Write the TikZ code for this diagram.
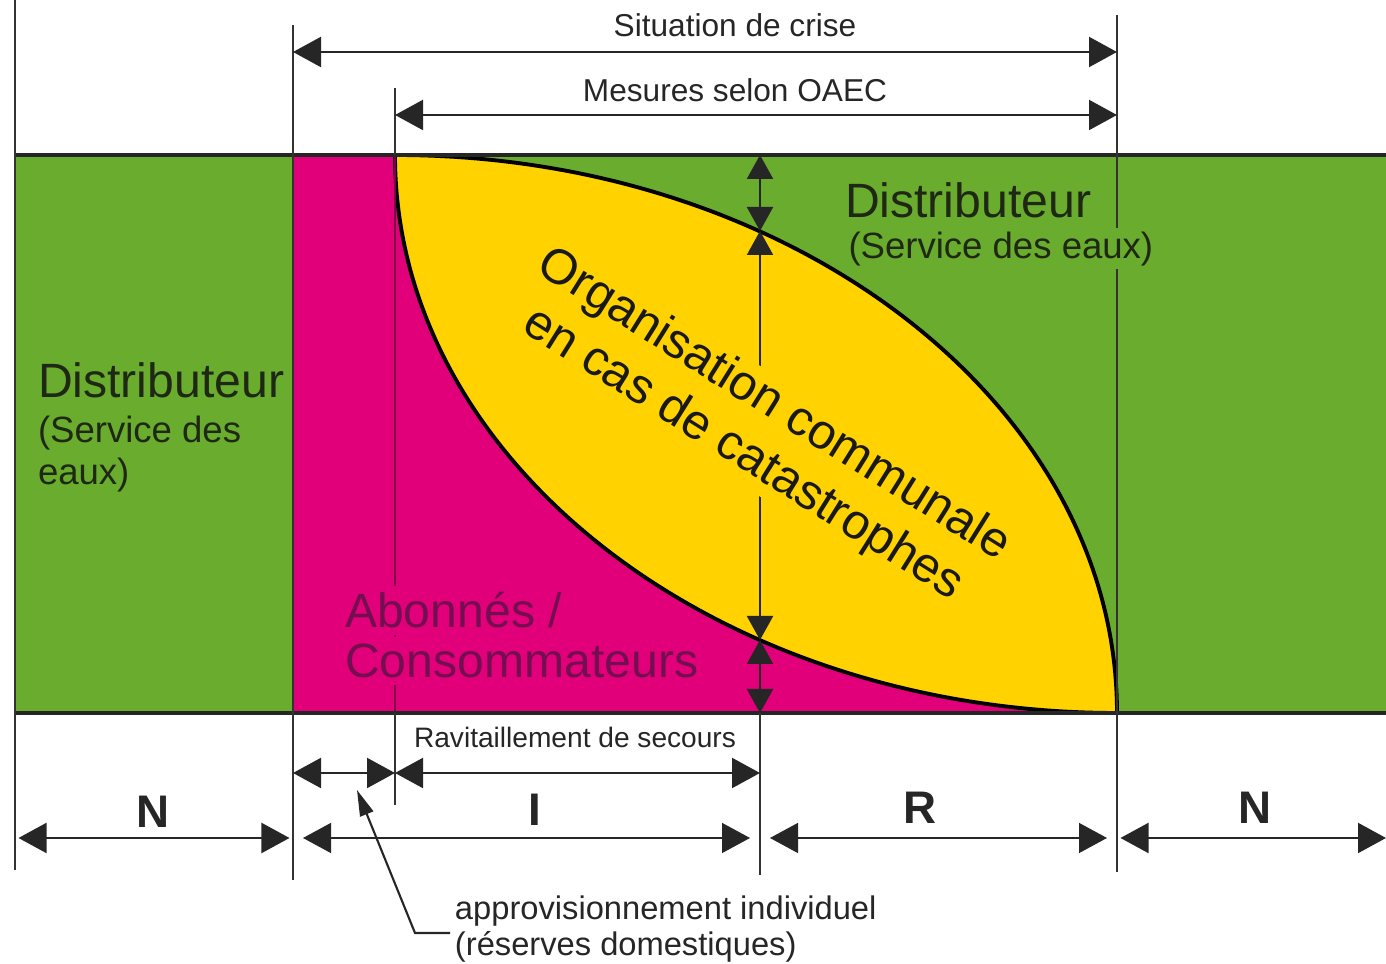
\documentclass[tikz,border=0pt]{standalone}
\usepackage{fontspec}
\setmainfont{Liberation Sans}
\usepackage{xcolor}
\usepackage{tikz}
\usetikzlibrary{arrows.meta,positioning,calc}

\definecolor{bandgreen}{RGB}{106,172,46}
\definecolor{bandpink}{RGB}{226,0,122}
\definecolor{lensyellow}{RGB}{255,210,0}
\definecolor{darktext}{RGB}{30,40,20}
\definecolor{pinktext}{RGB}{115,15,80}

\begin{document}
\begin{tikzpicture}[
    x=0.1mm, y=-0.1mm,
    every node/.style={inner sep=0pt, outer sep=0pt},
    band/.style={line width=1.2pt, draw=black!85},
    extline/.style={line width=0.5pt, draw=black!80},
    dimarrow/.style={{Triangle[length=2.8mm,width=3mm]}-{Triangle[length=2.8mm,width=3mm]}, line width=0.6pt, draw=black!85, fill=black!85},
    cutarrow/.style={{Triangle[length=2.4mm,width=2.6mm]}-{Triangle[length=2.4mm,width=2.6mm]}, line width=0.6pt, draw=black!85, fill=black!85},
    leader/.style={-{Triangle[length=2.6mm,width=1.4mm]}, line width=0.6pt, draw=black!85},
    title/.style={font=\fontsize{13.7}{16}\selectfont, text=darktext, anchor=base west},
    subtitle/.style={font=\fontsize{10.4}{12}\selectfont, text=darktext, anchor=base west},
    usertext/.style={font=\fontsize{13.7}{16}\selectfont, text=pinktext, anchor=base west, fill=bandpink, inner sep=2pt},
    lenstext/.style={font=\fontsize{14}{16.5}\selectfont, text=black!90, align=center, fill=lensyellow, inner sep=1pt},
    dimlabel/.style={font=\fontsize{9}{11}\selectfont, text=black!85, anchor=base},
    seglabel/.style={font=\bfseries\fontsize{13}{15}\selectfont, text=black!85}
]
    \useasboundingbox (0,0) rectangle (1386,964);

    % Reference positions
    \coordinate (xL) at (15,0);
    \coordinate (xA) at (293,0);
    \coordinate (xB) at (395,0);
    \coordinate (xC) at (760,0);
    \coordinate (xD) at (1117,0);
    \coordinate (xR) at (1386,0);
    \coordinate (yCrise) at (0,52);
    \coordinate (yOaec) at (0,115);
    \coordinate (yTop) at (0,155);
    \coordinate (yBot) at (0,713);
    \coordinate (yRav) at (0,773);
    \coordinate (yPhase) at (0,838);
    \coordinate (lensA) at (395,155);
    \coordinate (lensB) at (1117,713);
    \coordinate (cutU) at (760,231);
    \coordinate (cutL) at (760,640);

    % Band
    \fill[bandgreen] (xL |- yTop) rectangle (xR |- yBot);
    \fill[bandpink] (xA |- yTop) rectangle (xD |- yBot);
    \fill[bandgreen] (lensA) .. controls (793.8,155) and (1117,404.8) .. (lensB) -- (xD |- yTop) -- cycle;
    \filldraw[fill=lensyellow, draw=black, line width=1.1pt]
        (lensA) .. controls (793.8,155) and (1117,404.8) .. (lensB)
        .. controls (718.2,713) and (395,463.2) .. (lensA) -- cycle;
    \draw[line width=0.5pt, bandpink!55!black] (xB |- yTop) -- (xB |- yBot);
    \draw[line width=0.6pt, black!80] (xA |- yTop) -- (xA |- yBot);
    \draw[band] (xL |- yTop) -- (xR |- yTop);
    \draw[band] (xL |- yBot) -- (xR |- yBot);

    % Extension lines
    \draw[extline] (xL) -- ++(0,870);
    \draw[extline] (xA) ++(0,25) -- ++(0,855);
    \draw[extline] (xB) ++(0,88) -- (xB |- yTop);
    \draw[extline] (xB |- yBot) -- ++(0,92);
    \draw[extline] (xC |- yBot) -- ++(0,162);
    \draw[extline] (xD) ++(0,15) -- ++(0,857);

    % Time spans above
    \draw[dimarrow] (xA |- yCrise) -- (xD |- yCrise);
    \draw[dimarrow] (xB |- yOaec) -- (xD |- yOaec);
    \node[dimlabel] (crise) at (735,37) {Situation de crise};
    \node[dimlabel] (oaec) at (735,102) {Mesures selon OAEC};

    % Shares at the cut
    \draw[cutarrow] (xC |- yTop) -- (cutU);
    \draw[cutarrow] (cutU) -- (cutL);
    \draw[cutarrow] (cutL) -- (xC |- yBot);

    % Labels in the band
    \node[title] (distL) at (38,398) {Distributeur};
    \node[subtitle, below=12.8pt of distL.base west, anchor=base west] (servL1) {(Service des};
    \node[subtitle, below=11.7pt of servL1.base west, anchor=base west] (servL2) {eaux)};
    \node[title] (distR) at (845,218) {Distributeur};
    \node[subtitle, below=11.4pt of distR.base west, anchor=base west, fill=bandgreen, inner sep=1pt] (servR) {(Service des eaux)};
    \node[usertext] (users1) at (338,628) {Abonnés /};
    \node[usertext, below=14.2pt of users1.base west, anchor=base west] (users2) {Consommateurs};
    \node[lenstext, rotate=-32] (ocat) at (758,430) {Organisation communale\\en cas de catastrophes};

    % Time spans below
    \draw[dimarrow] (xA |- yRav) -- (xB |- yRav);
    \draw[dimarrow] (xB |- yRav) -- (xC |- yRav);
    \node[dimlabel, font=\fontsize{8}{10}\selectfont] (rav) at (575,748) {Ravitaillement de secours};

    \draw[dimarrow, shorten <=1pt, shorten >=1pt] (xL |- yPhase) -- (xA |- yPhase);
    \draw[dimarrow, line width=0.4pt, shorten <=1mm, shorten >=1mm] (xA |- yPhase) -- (xC |- yPhase);
    \draw[dimarrow, line width=0.4pt, shorten <=1mm, shorten >=1mm] (xC |- yPhase) -- (xD |- yPhase);
    \draw[dimarrow, shorten <=1pt] (xD |- yPhase) -- (xR |- yPhase);
    \node[seglabel] (segN1) at (153,812) {N};
    \node[seglabel] (segI) at (535,810) {I};
    \node[seglabel] (segR) at (920,808) {R};
    \node[seglabel] (segN2) at (1255,808) {N};

    % Note on individual supply
    \node[dimlabel, anchor=base west, font=\fontsize{9.3}{11}\selectfont] (appr1) at (455,920) {approvisionnement individuel};
    \node[dimlabel, font=\fontsize{9.3}{11}\selectfont, below=10pt of appr1.base west, anchor=base west] (appr2) {(réserves domestiques)};
    \coordinate (apprStart) at (450,933);
    \coordinate (apprElbow) at (415,933);
    \coordinate (apprTip) at (357,790);
    \draw[leader] (apprStart) -- (apprElbow) -- (apprTip);

\end{tikzpicture}
\end{document}
